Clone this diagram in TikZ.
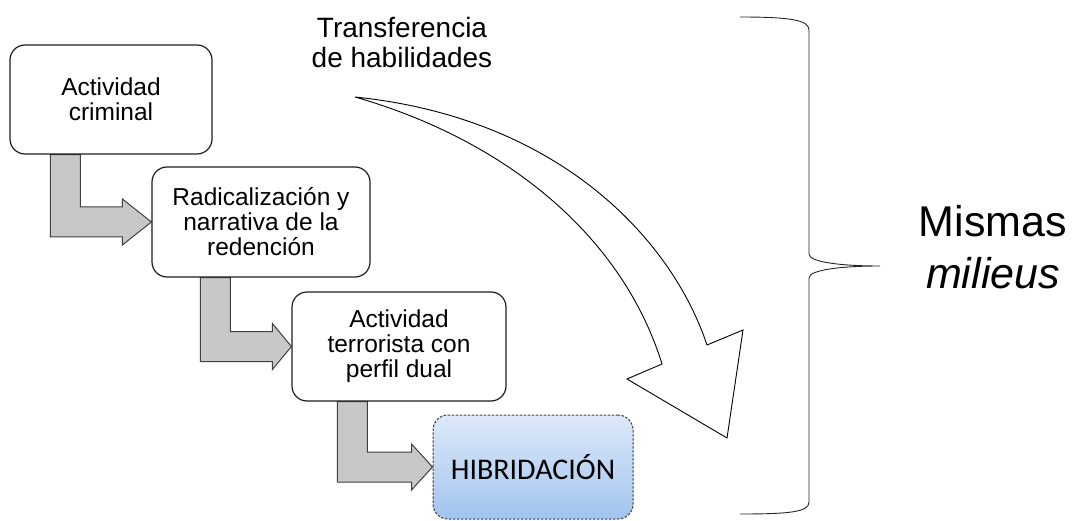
\documentclass[tikz,border=0pt]{standalone}
\usepackage{fontspec}
\setmainfont{Liberation Sans}
\newfontfamily\calibrifont{Carlito}
\usetikzlibrary{calc,backgrounds}
\definecolor{elbowfill}{HTML}{C8C8C8}
\definecolor{elbowline}{HTML}{404040}
\definecolor{hibtop}{HTML}{DDE9F9}
\definecolor{hibbot}{HTML}{A2C4EF}
\definecolor{boxline}{HTML}{1E1E1E}
\tikzset{
  stagebox/.style={draw=boxline, line width=1.2pt, fill=white, rounded corners=15pt,
    align=center, inner sep=0pt, font=\fontsize{24.5}{25}\selectfont},
  hibbox/.style={draw=elbowline, line width=1pt, dash pattern=on 2.5pt off 1.5pt,
    rounded corners=15pt, top color=hibtop, bottom color=hibbot,
    inner sep=0pt, font=\calibrifont\fontsize{30}{32}\selectfont},
  elbowstyle/.style={fill=elbowfill, draw=elbowline, line width=1pt, line join=miter},
  bigarrow/.style={fill=white, draw=black, line width=0.9pt, line join=miter},
  bracestyle/.style={draw=black!85, line width=0.9pt},
  lbl/.style={align=center, inner sep=0pt}
}
% #1 from node, #2 to node, #3 x offset of bar from #1.south west, #4 head length
\newcommand\elbowarrow[4]{%
  \path[elbowstyle] let \p1=(#1.south west), \p2=(#2.west) in
    ({\x1+#3pt},\y1) -- ({\x1+#3pt+30pt},\y1) -- ({\x1+#3pt+30pt},{\y2+15pt})
    -- ({\x2-#4pt},{\y2+15pt}) -- ({\x2-#4pt},{\y2+23pt}) -- (\x2,\y2)
    -- ({\x2-#4pt},{\y2-23pt}) -- ({\x2-#4pt},{\y2-15pt})
    -- ({\x1+#3pt},{\y2-15pt}) -- cycle;}
\begin{document}
\begin{tikzpicture}[x=1pt,y=-1pt]
\useasboundingbox (0,0) rectangle (1078,521);

% stage boxes
\node[stagebox, minimum width=202pt, minimum height=109pt] (b1) at (111,99.5) {Actividad\\criminal};
\node[stagebox, minimum width=218pt, minimum height=110pt] (b2) at (261,222) {Radicalización y\\narrativa de la\\redención};
\node[stagebox, minimum width=214pt, minimum height=109pt] (b3) at (399,346.5) {Actividad\\terrorista con\\perfil dual};
\node[hibbox, minimum width=200pt, minimum height=104pt] (b4) at (533,467) {HIBRIDACIÓN};

% elbow arrows behind the boxes
\begin{scope}[on background layer]
\elbowarrow{b1}{b2}{41}{29}
\elbowarrow{b2}{b3}{49}{19}
\elbowarrow{b3}{b4}{46}{21}
\end{scope}

% big curved arrow
\path[bigarrow] (355,97) .. controls (560,118) and (672,240) .. (707,345)
  -- (743,330) -- (727,438) -- (627,379) -- (662,364)
  .. controls (622,235) and (505,140) .. (355,97) -- cycle;

% title
\node[lbl, font=\fontsize{28}{30}\selectfont] (tt) at (402,42) {Transferencia\\de habilidades};

% brace
\draw[bracestyle] (740,17) .. controls (790,17) and (809,20) .. (809,30)
  -- (809,254) .. controls (809,262) and (840,266) .. (880,266)
  .. controls (840,266) and (809,270) .. (809,278)
  -- (809,502) .. controls (809,512) and (790,514) .. (740,514);

% right label
\node[lbl, font=\fontsize{43}{52}\selectfont] (mm) at (993,247) {Mismas\\\textit{milieus}};
\end{tikzpicture}
\end{document}
